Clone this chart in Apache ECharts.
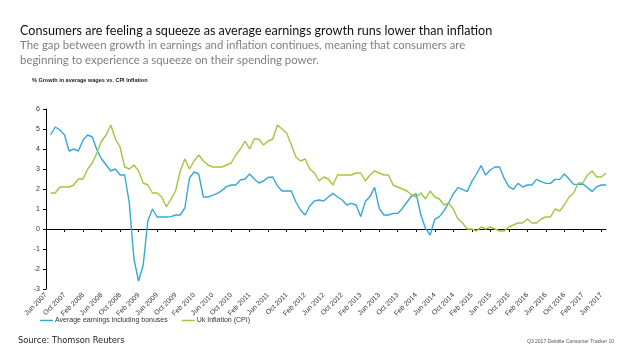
<!DOCTYPE html>
<html><head><meta charset="utf-8">
<script src="https://cdn.jsdelivr.net/npm/echarts@6/dist/echarts.min.js"></script>
<style>html,body{margin:0;padding:0;background:#fff}#c{width:638px;height:359px}</style>
</head><body><div id="c"></div>
<script>
const categories = [
'Jun 2007','Jul 2007','Aug 2007','Sep 2007','Oct 2007','Nov 2007','Dec 2007',
'Jan 2008','Feb 2008','Mar 2008','Apr 2008','May 2008','Jun 2008','Jul 2008','Aug 2008','Sep 2008','Oct 2008','Nov 2008','Dec 2008',
'Jan 2009','Feb 2009','Mar 2009','Apr 2009','May 2009','Jun 2009','Jul 2009','Aug 2009','Sep 2009','Oct 2009','Nov 2009','Dec 2009',
'Jan 2010','Feb 2010','Mar 2010','Apr 2010','May 2010','Jun 2010','Jul 2010','Aug 2010','Sep 2010','Oct 2010','Nov 2010','Dec 2010',
'Jan 2011','Feb 2011','Mar 2011','Apr 2011','May 2011','Jun 2011','Jul 2011','Aug 2011','Sep 2011','Oct 2011','Nov 2011','Dec 2011',
'Jan 2012','Feb 2012','Mar 2012','Apr 2012','May 2012','Jun 2012','Jul 2012','Aug 2012','Sep 2012','Oct 2012','Nov 2012','Dec 2012',
'Jan 2013','Feb 2013','Mar 2013','Apr 2013','May 2013','Jun 2013','Jul 2013','Aug 2013','Sep 2013','Oct 2013','Nov 2013','Dec 2013',
'Jan 2014','Feb 2014','Mar 2014','Apr 2014','May 2014','Jun 2014','Jul 2014','Aug 2014','Sep 2014','Oct 2014','Nov 2014','Dec 2014',
'Jan 2015','Feb 2015','Mar 2015','Apr 2015','May 2015','Jun 2015','Jul 2015','Aug 2015','Sep 2015','Oct 2015','Nov 2015','Dec 2015',
'Jan 2016','Feb 2016','Mar 2016','Apr 2016','May 2016','Jun 2016','Jul 2016','Aug 2016','Sep 2016','Oct 2016','Nov 2016','Dec 2016',
'Jan 2017','Feb 2017','Mar 2017','Apr 2017','May 2017','Jun 2017','Jul 2017'
];

const earnings = [
null,4.7,5.1,4.95,4.7,3.9,4.0,3.9,4.45,4.7,4.6,3.95,3.5,3.2,2.9,3.0,2.7,2.7,1.3,-1.5,
-2.6,-1.8,0.4,1.0,0.6,0.6,0.6,0.62,0.7,0.7,1.05,2.55,2.85,2.75,1.6,1.6,1.68,1.78,1.92,2.12,
2.2,2.2,2.45,2.5,2.75,2.5,2.3,2.4,2.58,2.6,2.15,1.9,1.9,1.9,1.35,0.95,0.7,1.15,1.4,1.45,
1.4,1.6,1.78,1.6,1.45,1.2,1.28,1.2,0.62,1.37,1.62,2.08,1.03,0.7,0.7,0.78,0.78,1.03,1.35,1.65,
1.75,0.7,0.03,-0.3,0.48,0.62,0.92,1.3,1.75,2.07,1.98,1.87,2.37,2.75,3.17,2.7,2.95,3.1,3.1,2.53,
2.12,1.98,2.28,2.1,2.2,2.2,2.48,2.37,2.28,2.28,2.48,2.48,2.75,2.5,2.23,2.23,2.25,2.07,1.87,2.12,
2.2,2.2
];

const inflation = [
null,1.8,1.8,2.1,2.1,2.1,2.2,2.5,2.5,3.0,3.3,3.8,4.4,4.7,5.2,4.5,4.1,3.1,3.0,3.2,
2.9,2.3,2.2,1.8,1.8,1.6,1.1,1.5,1.9,2.9,3.5,3.0,3.4,3.7,3.4,3.2,3.1,3.1,3.1,3.2,
3.3,3.7,4.0,4.4,4.0,4.5,4.5,4.2,4.4,4.5,5.2,5.0,4.8,4.2,3.6,3.4,3.5,3.0,2.8,2.4,
2.6,2.5,2.2,2.7,2.7,2.7,2.7,2.8,2.8,2.4,2.7,2.9,2.8,2.7,2.7,2.2,2.1,2.0,1.9,1.7,
1.6,1.8,1.5,1.9,1.6,1.5,1.2,1.3,1.0,0.5,0.3,0.0,0.0,-0.1,0.1,0.0,0.1,0.0,-0.1,-0.1,
0.1,0.2,0.3,0.3,0.5,0.3,0.3,0.5,0.6,0.6,1.0,0.9,1.2,1.6,1.8,2.3,2.3,2.7,2.9,2.6,
2.6,2.8
];

const seriesNames = ['Average earnings including bonuses','Uk Inflation (CPI)'];
const yMin = -3, yMax = 6, yStep = 1;
const blue = '#35a8d8', green = '#a4c63c';

const chart = echarts.init(document.getElementById('c'), null, {renderer:'canvas'});
chart.setOption({
  animation:false,
  backgroundColor:'#ffffff',
  title:[
    {text:'Consumers are feeling a squeeze as average earnings growth runs lower than inflation',left:20,top:24,padding:0,
     textStyle:{fontSize:12.6,fontWeight:'normal',color:'#111',fontFamily:'Lato'}},
    {text:'The gap between growth in earnings and inflation continues, meaning that consumers are\nbeginning to experience a squeeze on their spending power.',left:20,top:38,padding:0,
     textStyle:{fontSize:11.4,fontWeight:'normal',color:'#7f7f7f',fontFamily:'Lato',lineHeight:15}},
    {text:'% Growth in average wages vs. CPI Inflation',left:32,top:77,padding:0,
     textStyle:{fontSize:5.5,fontWeight:'bold',color:'#222',fontFamily:'Liberation Sans'}},
    {text:'Source: Thomson Reuters',left:18,top:337,padding:0,
     textStyle:{fontSize:8.3,fontWeight:'normal',color:'#222',fontFamily:'DejaVu Sans'}},
    {text:'Q3 2017 Deloitte Consumer Tracker 10',left:527,top:339,padding:0,
     textStyle:{fontSize:5,fontWeight:'normal',color:'#555',fontFamily:'Liberation Sans'}}
  ],
  legend:{
    left:40,top:317,itemWidth:13,itemHeight:1.5,itemGap:14,padding:0,icon:'rect',
    textStyle:{fontSize:7,color:'#333',fontFamily:'Liberation Sans',padding:[0,0,0,-3]},
    data:seriesNames
  },
  grid:{left:46,right:32,top:109,bottom:70,containLabel:false},
  xAxis:[
    {type:'category',data:categories,boundaryGap:false,position:'bottom',
     axisLine:{show:false,onZero:false},axisTick:{show:false},
     axisLabel:{interval:3,rotate:45,fontSize:7,color:'#333',margin:5,fontFamily:'Liberation Sans'},
     splitLine:{show:false}},
    {type:'category',data:categories,boundaryGap:false,position:'bottom',
     axisLine:{show:true,onZero:true,lineStyle:{color:'#000',width:1.2}},
     axisTick:{show:true,interval:3,length:3,lineStyle:{color:'#000'}},
     axisLabel:{show:false},splitLine:{show:false}}
  ],
  yAxis:{type:'value',min:yMin,max:yMax,interval:yStep,
    axisLine:{show:true,lineStyle:{color:'#000',width:1}},
    axisTick:{show:true,length:3,lineStyle:{color:'#000'}},
    axisLabel:{fontSize:7,color:'#333',margin:6,fontFamily:'Liberation Sans'},
    splitLine:{show:false}},
  series:[
    {name:seriesNames[0],type:'line',data:earnings,xAxisIndex:0,symbol:'none',
     lineStyle:{color:blue,width:1.4},itemStyle:{color:blue}},
    {name:seriesNames[1],type:'line',data:inflation,xAxisIndex:0,symbol:'none',
     lineStyle:{color:green,width:1.4},itemStyle:{color:green}}
  ]
});
</script>
</body></html>
